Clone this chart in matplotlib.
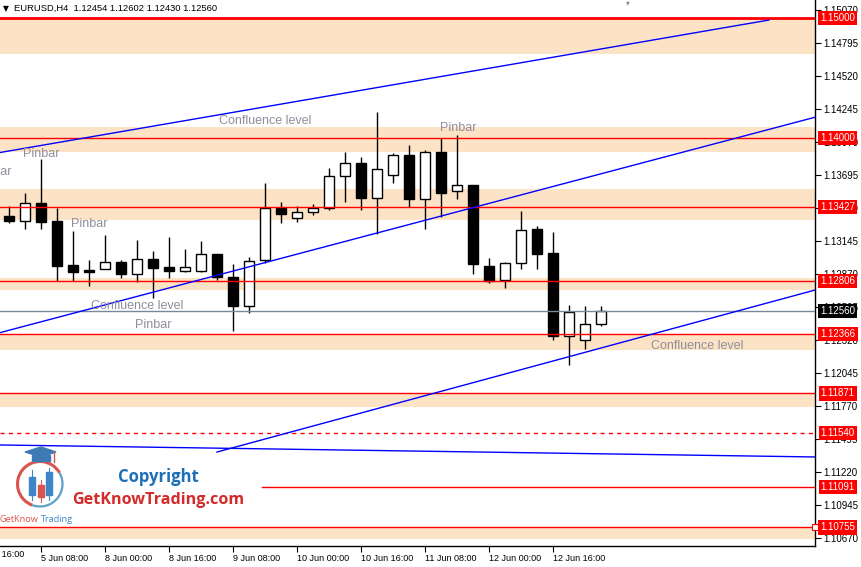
import matplotlib.pyplot as plt
from matplotlib.patches import Rectangle, Arc, Polygon
from matplotlib.transforms import blended_transform_factory

# ─────────────────────────────────────────────
#  DATA  (EURUSD H4, bar 0 = 5 Jun 00:00)
# ─────────────────────────────────────────────

opens  = [1.13350, 1.13311, 1.13456, 1.13308, 1.12942, 1.12900, 1.12911, 1.12967,
          1.12869, 1.12992, 1.12922, 1.12894, 1.12894, 1.13033, 1.12839, 1.12604,
          1.12981, 1.13417, 1.13331, 1.13383, 1.13414, 1.13681, 1.13789, 1.13497,
          1.13689, 1.13858, 1.13494, 1.13883, 1.13556, 1.13608, 1.12932, 1.12814,
          1.12956, 1.13239, 1.13039, 1.12347, 1.12314, 1.12454]
highs  = [1.13433, 1.13542, 1.13825, 1.13417, 1.13225, 1.12983, 1.13192, 1.12983,
          1.13147, 1.13058, 1.13175, 1.13075, 1.13139, 1.13033, 1.12948, 1.13007,
          1.13628, 1.13469, 1.13431, 1.13448, 1.13747, 1.13881, 1.13839, 1.14217,
          1.13872, 1.13942, 1.13900, 1.14000, 1.14028, 1.13608, 1.13000, 1.12967,
          1.13392, 1.13267, 1.13217, 1.12608, 1.12603, 1.12602]
lows   = [1.13294, 1.13242, 1.13242, 1.12811, 1.12811, 1.12767, 1.12905, 1.12836,
          1.12803, 1.12664, 1.12836, 1.12886, 1.12881, 1.12817, 1.12394, 1.12538,
          1.12956, 1.13294, 1.13303, 1.13361, 1.13400, 1.13469, 1.13400, 1.13200,
          1.13622, 1.13428, 1.13239, 1.13344, 1.13494, 1.12869, 1.12788, 1.12753,
          1.12911, 1.12911, 1.12319, 1.12108, 1.12242, 1.12430]
closes = [1.13311, 1.13456, 1.13300, 1.12933, 1.12886, 1.12886, 1.12964, 1.12869,
          1.12989, 1.12919, 1.12894, 1.12922, 1.13033, 1.12839, 1.12604, 1.12979,
          1.13414, 1.13369, 1.13381, 1.13417, 1.13681, 1.13789, 1.13503, 1.13739,
          1.13856, 1.13494, 1.13883, 1.13544, 1.13606, 1.12952, 1.12811, 1.12956,
          1.13231, 1.13036, 1.12347, 1.12553, 1.12447, 1.12560]

time_tick_bars   = [-2, 2, 6, 10, 14, 18, 22, 26, 30, 34]
time_tick_labels = ["4 Jun 16:00", "5 Jun 08:00", "8 Jun 00:00", "8 Jun 16:00",
                    "9 Jun 08:00", "10 Jun 00:00", "10 Jun 16:00", "11 Jun 08:00",
                    "12 Jun 00:00", "12 Jun 16:00"]

price_ticks = [1.10670, 1.10945, 1.11220, 1.11495, 1.11770, 1.12045, 1.12320,
               1.12595, 1.12870, 1.13145, 1.13420, 1.13695, 1.13970, 1.14245,
               1.14520, 1.14795, 1.15070]

# zonas de suporte/resistencia (topo, base)
zone_tops    = [1.15000, 1.14092, 1.13575, 1.12836, 1.12366, 1.11871, 1.10755]
zone_bottoms = [1.14700, 1.13883, 1.13320, 1.12730, 1.12233, 1.11758, 1.10658]

red_levels     = [1.15000, 1.14000, 1.13427, 1.12806, 1.12366, 1.11871, 1.10755]
partial_level  = 1.11091
partial_start  = 15.8
dashed_level   = 1.11540
current_price  = 1.12560

# linhas de tendencia: (barra0, preco0, barra1, preco1)
trend_lines = [
    (-0.58, 1.13879, 47.48, 1.14983),
    (-0.58, 1.12378, 50.36, 1.14173),
    (12.98, 1.11383, 50.36, 1.12733),
    (-0.58, 1.11442, 50.36, 1.11342),
]

notes   = ["Pinbar", "Pinbar", "Confluence level", "Pinbar", "Pinbar",
           "Confluence level", "Pinbar", "Confluence level"]
notes_x = [-2.14, 0.86, 13.1, 3.86, 26.92, 5.1, 7.85, 40.1]
notes_y = [1.13717, 1.13867, 1.14142, 1.13283, 1.14083, 1.12600, 1.12442, 1.12267]

# ─────────────────────────────────────────────
#  ESTILO
# ─────────────────────────────────────────────

FONTE       = 'Liberation Sans'
COR_ZONA    = '#fde3c5'
COR_TEXTO   = '#8e8e9c'
W, H        = 862, 567

plt.rcParams['font.family'] = [FONTE, 'DejaVu Sans']

fig = plt.figure(figsize=(W / 100, H / 100), dpi=100)
ax = fig.add_axes([0, 21 / H, 815 / W, 546 / H])

ax.set_xlim(-0.58, 50.36)
ax.set_ylim(1.10600, 1.15150)

# zonas
for top, bot in zip(zone_tops, zone_bottoms):
    ax.axhspan(bot, top, color=COR_ZONA, lw=0, zorder=1)

# candles
for i, (o, h, l, c) in enumerate(zip(opens, highs, lows, closes)):
    ax.plot([i, i], [l, h], color='black', lw=1.0, zorder=3,
            solid_capstyle='butt')
    base = min(o, c)
    altura = max(abs(c - o), 0.000015)
    cor = 'white' if c >= o else 'black'
    ax.add_patch(Rectangle((i - 0.31, base), 0.62, altura, facecolor=cor,
                           edgecolor='black', lw=1.0, zorder=4))

# niveis horizontais
for lvl in red_levels:
    ax.axhline(lvl, color='red', lw=2.0 if lvl == 1.15 else 1.0, zorder=5)
ax.plot([partial_start, 50.36], [partial_level, partial_level],
        color='red', lw=1.0, zorder=5)
ax.axhline(dashed_level, color='red', lw=1.0, ls=(0, (3, 3)), zorder=5)
ax.axhline(current_price, color='#778899', lw=1.0, zorder=5)
ax.plot([50.36], [1.10755], marker='s', ms=4, mfc='white', mec='red',
        mew=0.8, clip_on=False, zorder=9)

# linhas de tendencia
for x0, y0, x1, y1 in trend_lines:
    ax.plot([x0, x1], [y0, y1], color='#0000ff', lw=1.0, zorder=6)

# textos
for t, x, y in zip(notes, notes_x, notes_y):
    ax.text(x, y, t, color=COR_TEXTO, fontsize=9, ha='left', va='center',
            zorder=7)

# eixos
for lado in ['left', 'top']:
    ax.spines[lado].set_visible(False)
for lado in ['right', 'bottom']:
    ax.spines[lado].set_linewidth(1.0)
ax.yaxis.tick_right()
ax.set_yticks(price_ticks)
ax.set_yticklabels([f"{p:.5f}" for p in price_ticks])
ax.tick_params(axis='y', direction='out', length=4, width=0.8, pad=2,
               labelsize=7)

ax.set_xticks(time_tick_bars[1:])
ax.set_xticklabels(time_tick_labels[1:], ha='left')
ax.tick_params(axis='x', direction='out', length=4, width=0.8, pad=2,
               labelsize=6.5)
mix = blended_transform_factory(ax.transData, ax.transAxes)
ax.text(time_tick_bars[0], -0.0075, time_tick_labels[0], transform=mix,
        fontsize=6.5, ha='left', va='top', clip_on=False)

# etiquetas de preco
marc = blended_transform_factory(ax.transAxes, ax.transData)
for lvl in red_levels + [partial_level, dashed_level]:
    ax.text(1.028, lvl, f"{lvl:.5f}", transform=marc, fontsize=7,
            color='white', ha='center', va='center', zorder=10,
            clip_on=False,
            bbox=dict(boxstyle='square,pad=0.22', facecolor='red',
                      edgecolor='none'))
ax.text(1.028, current_price, f"{current_price:.5f}", transform=marc,
        fontsize=7, color='white', ha='center', va='center', zorder=10,
        clip_on=False,
        bbox=dict(boxstyle='square,pad=0.22', facecolor='black',
                  edgecolor='none'))

# ─────────────────────────────────────────────
#  CAMADA EM PIXELS: cabecalho e logotipo
# ─────────────────────────────────────────────

ov = fig.add_axes([0, 0, 1, 1], zorder=20)
ov.set_xlim(0, W)
ov.set_ylim(H, 0)
ov.axis('off')
ov.patch.set_alpha(0)

ov.text(3, 8.5, "\u25bc", fontsize=5.5, family='DejaVu Sans', va='center')
titulo = (f"EURUSD,H4  {opens[-1]:.5f} {highs[-1]:.5f} "
          f"{lows[-1]:.5f} {closes[-1]:.5f}")
ov.text(14, 8.5, titulo, fontsize=6.75, va='center')
ov.text(628, 3, "\u25bc", fontsize=3.5, family='DejaVu Sans',
        color='#778899', ha='center', va='center')

# logotipo
ov.add_patch(Arc((40, 484), 45, 45, theta1=110, theta2=330,
                 color='#d9534f', lw=2.2))
ov.add_patch(Arc((40, 484), 45, 45, theta1=-30, theta2=110,
                 color='#5aa0c8', lw=1.6))
ov.plot([32, 32], [470, 500], color='#3d85c6', lw=0.8)
ov.add_patch(Rectangle((29, 477), 6, 18, color='#3d85c6'))
ov.plot([41, 41], [480, 502], color='#d9534f', lw=0.8)
ov.add_patch(Rectangle((38, 485), 6, 12, color='#d9534f'))
ov.plot([49, 49], [468, 500], color='#3d85c6', lw=0.8)
ov.add_patch(Rectangle((46, 472), 6, 23, color='#3d85c6'))
ov.add_patch(Polygon([(25, 452), (41, 447), (56, 452), (41, 457)],
                     closed=True, color='#3d7ab5'))
ov.add_patch(Polygon([(32, 455), (50, 455), (50, 461), (32, 461)],
                     closed=True, color='#3d7ab5'))
ov.plot([54, 54], [452, 462], color='#d9534f', lw=1.0)

ov.text(0, 519, "GetKnow", fontsize=6.6, family='Open Sans',
        color='#d9534f', va='center')
ov.text(40.5, 519, "Trading", fontsize=6.6, family='Open Sans',
        color='#3d85c6', va='center')
ov.text(158, 477, "Copyright", fontsize=12, family='Open Sans',
        weight='bold', color='#1c6fb5', ha='center', va='center')
ov.text(158, 500, "GetKnowTrading.com", fontsize=11.6, family='Open Sans',
        weight='bold', color='#d42a2a', ha='center', va='center')

fig.savefig('out.png', dpi=100)
